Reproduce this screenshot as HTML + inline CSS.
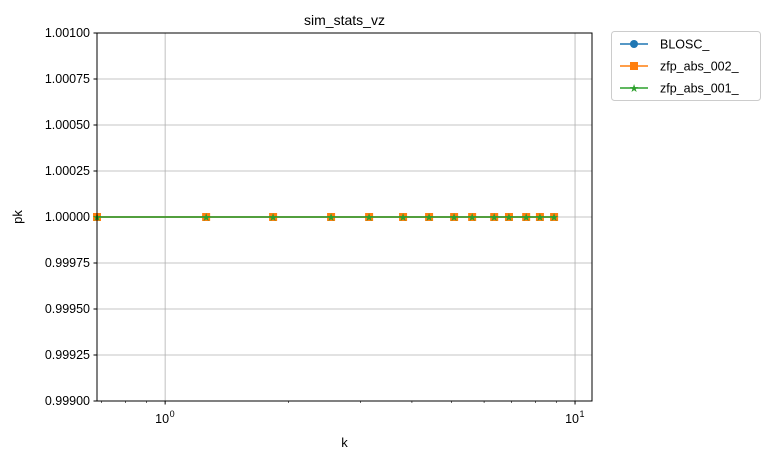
<!DOCTYPE html>
<html><head><meta charset="utf-8"><style>
body{margin:0;background:#fff;font-family:"Liberation Sans","DejaVu Sans",sans-serif;}
</style></head><body>
<svg width="770" height="459" xmlns="http://www.w3.org/2000/svg" font-family="Liberation Sans, DejaVu Sans, sans-serif">
<g id="grid"></g>
<g id="axes"></g>
<g id="series"></g>
<rect x="97" y="33" width="495" height="368" fill="none" stroke="#000" stroke-width="1"/>
<text x="344.5" y="25" text-anchor="middle" font-size="14">sim_stats_vz</text>
<text x="344.5" y="447" text-anchor="middle" font-size="13">k</text>
<text x="0" y="0" transform="translate(22,217) rotate(-90)" text-anchor="middle" font-size="13">pk</text>
<g>
<rect x="611.5" y="31.5" width="149" height="69" fill="#fff" stroke="#ccc" rx="3"/>
<g><line x1="620" y1="44" x2="648" y2="44" stroke="#1f77b4" stroke-width="1.5"/><circle cx="634" cy="44" r="4" fill="#1f77b4"/><text x="660" y="48.5" font-size="12.5">BLOSC_</text></g>
<g><line x1="620" y1="66" x2="648" y2="66" stroke="#ff7f0e" stroke-width="1.5"/><rect x="630" y="62" width="8" height="8" fill="#ff7f0e"/><text x="660" y="70.5" font-size="12.5">zfp_abs_002_</text></g>
<g><line x1="620" y1="88" x2="648" y2="88" stroke="#2ca02c" stroke-width="1.5"/><text x="634" y="92" text-anchor="middle" font-size="11" fill="#2ca02c">★</text><text x="660" y="92.5" font-size="12.5">zfp_abs_001_</text></g>
</g>
</svg>
<script>
const kValues=[0.682,1.259,1.834,2.54,3.145,3.806,4.405,5.07,5.61,6.35,6.90,7.60,8.21,8.89];
const blosc=[1,1,1,1,1,1,1,1,1,1,1,1,1,1];
const zfp002=[1,1,1,1,1,1,1,1,1,1,1,1,1,1];
const zfp001=[1,1,1,1,1,1,1,1,1,1,1,1,1,1];
const yTicks=[0.999,0.99925,0.9995,0.99975,1.0,1.00025,1.0005,1.00075,1.001];
const yTickLabels=["0.99900","0.99925","0.99950","0.99975","1.00000","1.00025","1.00050","1.00075","1.00100"];
const xMajor=[1,10];
const xMajorLabels=["0","1"];
const X0=97,X1=592,Y0=33,Y1=401,xmin=0.682,xmax=11.0,ymin=0.999,ymax=1.001;
const NS="http://www.w3.org/2000/svg";
function xs(v){return X0+(Math.log10(v)-Math.log10(xmin))/(Math.log10(xmax)-Math.log10(xmin))*(X1-X0);}
function ys(v){return Y1-(v-ymin)/(ymax-ymin)*(Y1-Y0);}
function mk(tag,attrs,parent){const e=document.createElementNS(NS,tag);for(const k in attrs)e.setAttribute(k,attrs[k]);parent.appendChild(e);return e;}
const grid=document.getElementById('grid'),axes=document.getElementById('axes'),ser=document.getElementById('series');
yTicks.forEach((t,i)=>{const y=ys(t);
 const g=mk('line',{x1:X0,x2:X1,y1:y,y2:y,stroke:'#b0b0b0','stroke-width':0.8},grid);
 
 
 mk('line',{x1:X0-3.5,x2:X0,y1:y,y2:y,stroke:'#000'},axes);
 const tx=mk('text',{x:X0-7,y:y+4,'text-anchor':'end','font-size':12.5},axes);tx.textContent=yTickLabels[i];
 
 
});
xMajor.forEach((t,i)=>{const x=xs(t);
 const g=mk('line',{x1:x,x2:x,y1:Y0,y2:Y1,stroke:'#b0b0b0','stroke-width':0.8},grid);
 
 
 mk('line',{x1:x,x2:x,y1:Y1,y2:Y1+3.5,stroke:'#000'},axes);
 const tx=mk('text',{x:x-3,y:Y1+22,'text-anchor':'middle','font-size':12.5},axes);tx.textContent='10';
 
 
 const sp=mk('text',{x:x+7,y:Y1+16,'text-anchor':'middle','font-size':9},axes);sp.textContent=xMajorLabels[i];
});
[0.7,0.8,0.9,2,3,4,5,6,7,8,9].forEach(t=>{const x=xs(t);mk('line',{x1:x,x2:x,y1:Y1,y2:Y1+2,stroke:'#000','stroke-width':0.6},axes);});
function series(vals,color,marker,name){
 const g=mk('g',{},ser);
 
 
 mk('polyline',{points:kValues.map((k,i)=>xs(k)+','+ys(vals[i])).join(' '),fill:'none',stroke:color,'stroke-width':1.5},g);
 kValues.forEach((k,i)=>{const x=xs(k),y=ys(vals[i]);
  if(marker==='o')mk('circle',{cx:x,cy:y,r:4,fill:color},g);
  else if(marker==='s')mk('rect',{x:x-4,y:y-4,width:8,height:8,fill:color},g);
  else{const t=mk('text',{x:x,y:y+4,'text-anchor':'middle','font-size':11,fill:color},g);t.textContent='★';}
 });
}
series(blosc,'#1f77b4','o','series-blosc');
series(zfp002,'#ff7f0e','s','series-zfp-abs-002');
series(zfp001,'#2ca02c','*','series-zfp-abs-001');
</script>
</body></html>
